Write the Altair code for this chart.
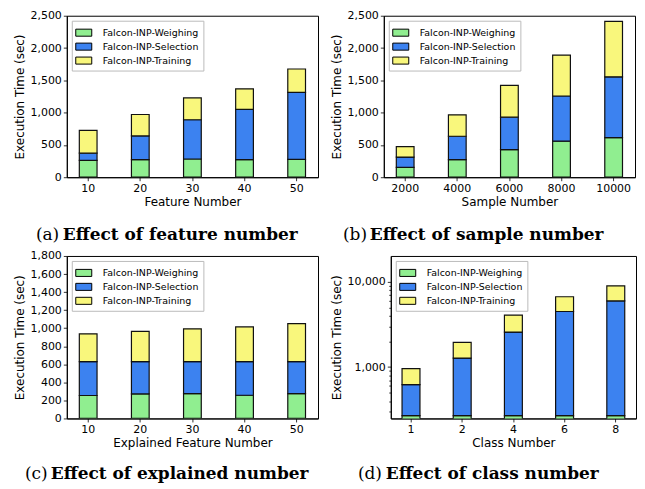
import altair as alt
import pandas as pd

series = ["Falcon-INP-Weighing", "Falcon-INP-Selection", "Falcon-INP-Training"]
colors = ["#90ee90", "#3c82f0", "#f9f77c"]

# (a) feature number
a_cats = ["10", "20", "30", "40", "50"]
a_weigh = [262, 272, 282, 272, 277]
a_select = [110, 367, 608, 779, 1036]
a_train = [352, 332, 337, 317, 362]

# (b) sample number
b_cats = ["2000", "4000", "6000", "8000", "10000"]
b_weigh = [151, 272, 428, 558, 614]
b_select = [161, 362, 502, 699, 940]
b_train = [161, 332, 493, 634, 860]

# (c) explained feature number
c_cats = ["10", "20", "30", "40", "50"]
c_weigh = [254, 272, 275, 257, 275]
c_select = [376, 358, 355, 373, 355]
c_train = [308, 334, 363, 384, 421]

# (d) class number (log scale)
d_cats = ["1", "2", "4", "6", "8"]
d_weigh = [270, 270, 270, 270, 270]
d_select = [351, 1004, 2299, 4200, 5680]
d_train = [337, 674, 1492, 2190, 2980]

YTITLE = "Execution Time (sec)"
CAP_FONT = "DejaVu Serif"
CAP_SIZE = 17


def build_df(cats, vals_list, base):
    rows = []
    for i, c in enumerate(cats):
        cum = 0
        for s, vals in zip(series, vals_list):
            new = cum + vals[i]
            rows.append({"cat": c, "series": s, "start": cum if cum > 0 else base, "end": new})
            cum = new
    return pd.DataFrame(rows)


def legend():
    return alt.Legend(
        title=None,
        orient="top-left",
        offset=5,
        padding=4,
        strokeColor="#bbbbbb",
        fillColor="white",
        labelFont="DejaVu Sans",
        labelFontSize=9.5,
        labelColor="black",
        symbolType="M-1.07,-0.47L1.07,-0.47L1.07,0.47L-1.07,0.47Z",
        symbolSize=225,
        symbolStrokeColor="black",
        symbolStrokeWidth=1,
        symbolOpacity=1,
        rowPadding=0,
        labelOffset=11,
    )


def panel(cats, vals_list, xtitle, width, height, yscale, yaxis, letter, caption,
          cap_x, cap_bx, cap_dy, pad_in, pad_out, base=0):
    df = build_df(cats, vals_list, base)
    bars = alt.Chart(df).mark_bar(stroke="#111111", strokeWidth=1.2, clip=True, opacity=1).encode(
        x=alt.X("cat:N", sort=cats, title=xtitle,
                scale=alt.Scale(paddingInner=pad_in, paddingOuter=pad_out),
                axis=alt.Axis(labelAngle=0, titlePadding=3)),
        y=alt.Y("end:Q", scale=yscale, axis=yaxis, title=YTITLE),
        y2="start:Q",
        color=alt.Color("series:N", scale=alt.Scale(domain=series, range=colors), legend=legend()),
    )
    cap1 = alt.Chart(pd.DataFrame({"t": [letter]})).mark_text(
        align="left", baseline="middle", font=CAP_FONT, fontSize=CAP_SIZE, color="black"
    ).encode(text="t:N", x=alt.value(cap_x), y=alt.value(height + cap_dy))
    cap2 = alt.Chart(pd.DataFrame({"t": [caption]})).mark_text(
        align="left", baseline="middle", font=CAP_FONT, fontSize=CAP_SIZE, fontWeight="bold", color="black"
    ).encode(text="t:N", x=alt.value(cap_bx), y=alt.value(height + cap_dy))
    return alt.layer(bars, cap1, cap2).properties(width=width, height=height)


pa = panel(a_cats, [a_weigh, a_select, a_train], "Feature Number", 252, 162,
           alt.Scale(domain=[0, 2500]),
           alt.Axis(values=[0, 500, 1000, 1500, 2000, 2500], format=",d"),
           "(a)", "Effect of feature number", -31, -4, 58, 0.66, 0.24)

pb = panel(b_cats, [b_weigh, b_select, b_train], "Sample Number", 252, 162,
           alt.Scale(domain=[0, 2500]),
           alt.Axis(values=[0, 500, 1000, 1500, 2000, 2500], format=",d"),
           "(b)", "Effect of sample number", -41, -14, 58, 0.66, 0.24)

pc = panel(c_cats, [c_weigh, c_select, c_train], "Explained Feature Number", 252, 163,
           alt.Scale(domain=[0, 1800]),
           alt.Axis(values=[0, 200, 400, 600, 800, 1000, 1200, 1400, 1600, 1800], format=",d"),
           "(c)", "Effect of explained number", -42, -16, 56, 0.66, 0.24)

major_test = "datum.value == 1000 || datum.value == 10000"
d_ticks = [300, 400, 500, 600, 700, 800, 900, 1000, 2000, 3000, 4000, 5000, 6000, 7000, 8000, 9000, 10000]
pd_ = panel(d_cats, [d_weigh, d_select, d_train], "Class Number", 246, 163,
            alt.Scale(type="log", domain=[250, 20000]),
            alt.Axis(values=d_ticks,
                     labelExpr="(" + major_test + ") ? format(datum.value, ',') : ''",
                     tickSize={"condition": {"test": major_test, "value": 3.5}, "value": 2}),
            "(d)", "Effect of class number", -33, -5, 56, 0.65, 0.22, base=1)

top = alt.hconcat(pa, pb, spacing=11).resolve_scale(color="independent").resolve_legend(color="independent")
bottom = alt.hconcat(pc, pd_, spacing=11).resolve_scale(color="independent").resolve_legend(color="independent")

chart = alt.vconcat(top, bottom, spacing=5).resolve_scale(color="independent").resolve_legend(
    color="independent"
).properties(padding={"left": 5, "top": 0, "right": 0, "bottom": 0}).configure_view(
    stroke="black", strokeWidth=1
).configure_axis(
    grid=False,
    domainColor="black",
    tickColor="black",
    tickSize=3.5,
    tickWidth=0.8,
    labelColor="black",
    titleColor="black",
    labelFont="DejaVu Sans",
    labelFontSize=11,
    titleFont="DejaVu Sans",
    titleFontSize=12,
    titleFontWeight="normal",
    labelPadding=2,
    titlePadding=3,
)

chart.save("out.html", embed_options={"renderer": "svg", "actions": False})
